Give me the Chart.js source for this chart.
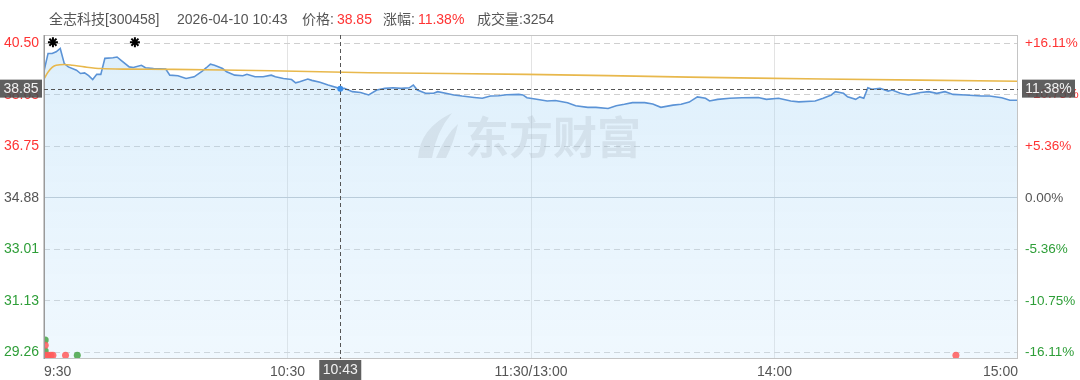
<!DOCTYPE html>
<html lang="zh-CN">
<head>
<meta charset="UTF-8" />
<title>全志科技 分时</title>
<style>
  html, body { margin: 0; padding: 0; background: #fff; }
  #wrap { width: 1080px; height: 380px; }
</style>
</head>
<body>
<div id="wrap"><canvas id="fenshi" width="1080" height="380"></canvas></div>
<script src="https://cdn.jsdelivr.net/npm/chart.js"></script>
<script>
  // ---- data ----
  const stockName = "全志科技[300458]";
  const preClose = 34.88;

  const priceMinutes = [0, 1, 2, 3, 4, 5, 6, 8, 9, 10, 11, 12, 13, 14, 15, 17, 18, 19, 21, 22, 24, 25, 27, 30,
    31, 33, 35, 37, 39, 40, 41, 42, 44, 45, 47, 49, 50, 52, 54, 56, 57, 59, 61, 62, 63, 65, 66, 68, 70,
    73, 74, 76, 78, 80, 82, 84, 86, 88, 90, 91, 92, 94, 96, 97, 99, 101, 103, 106, 108, 110, 112, 114,
    117, 118, 119, 121, 124, 126, 129, 131, 134, 136, 139, 141, 143, 145, 148, 150, 152, 155, 157, 159,
    161, 163, 164, 166, 169, 172, 176, 178, 181, 184, 186, 190, 192, 194, 195, 197, 198, 200, 201, 202,
    203, 204, 206, 208, 209, 211, 213, 216, 218, 220, 222, 224, 227, 231, 233, 236, 238, 240];
  const priceValues = [39.49, 40.13, 40.13, 40.19, 40.31, 39.76, 39.64, 39.52, 39.40, 39.42, 39.32, 39.18,
    39.37, 39.37, 39.95, 39.97, 40.00, 39.88, 39.64, 39.62, 39.70, 39.61, 39.58, 39.56,
    39.34, 39.32, 39.22, 39.28, 39.49, 39.61, 39.74, 39.70, 39.58, 39.46, 39.34, 39.32, 39.37, 39.28,
    39.28, 39.34, 39.28, 39.22, 39.18, 39.06, 39.10, 39.20, 39.15, 39.08, 38.98,
    38.85, 38.86, 38.74, 38.71, 38.62, 38.80, 38.86, 38.88, 38.86, 38.88, 38.98, 38.80, 38.68, 38.68,
    38.74, 38.68, 38.62, 38.58, 38.53, 38.50, 38.58, 38.59, 38.63,
    38.64, 38.62, 38.52, 38.47, 38.40, 38.42, 38.34, 38.23, 38.17, 38.17, 38.13, 38.23, 38.28, 38.34,
    38.34, 38.29, 38.17, 38.25, 38.28, 38.36,
    38.55, 38.50, 38.40, 38.46, 38.50, 38.52, 38.53, 38.46, 38.50, 38.40, 38.37, 38.40, 38.50, 38.62,
    38.74, 38.68, 38.55, 38.46, 38.55, 38.50,
    38.88, 38.83, 38.86, 38.76, 38.80, 38.68, 38.62, 38.71, 38.74, 38.68, 38.74, 38.64, 38.62, 38.58,
    38.58, 38.52, 38.43, 38.43];

  const avgMinutes = [0, 1, 2, 3, 5, 7, 10, 14, 20, 32, 56, 80, 119, 159, 192, 240];
  const avgValues = [39.20, 39.45, 39.62, 39.70, 39.73, 39.70, 39.64, 39.58, 39.56, 39.55, 39.50,
    39.43, 39.37, 39.27, 39.20, 39.12];

  const yTickValues = [40.50, 38.63, 36.75, 34.88, 33.01, 31.13, 29.26];
  const pctTickLabels = ["+16.11%", "+10.75%", "+5.36%", "0.00%", "-5.36%", "-10.75%", "-16.11%"];
  const xTickMinutes = [0, 60, 120, 180, 240];
  const xTickLabels = ["9:30", "10:30", "11:30/13:00", "14:00", "15:00"];

  const markMinutes = [2.2, 22.4];
  const markValues = [40.54, 40.54];
  const redDotMinutes = [0.3, 1, 1.7, 2.2, 0.3, 5.3, 224.7];
  const redDotValues = [29.16, 29.16, 29.16, 29.16, 29.52, 29.16, 29.16];
  const greenDotMinutes = [0.3, 0.3, 8.2];
  const greenDotValues = [29.71, 29.31, 29.16];

  const cursorMinute = 73;
  const cursorTime = "10:43";
  const cursorPrice = 38.85;
  const volume = 3254;
  const tradeDate = "2026-04-10";

  const RED = "#ff3333";
  const GREEN = "#2e9e38";
  const GRAY = "#555555";
  const FONT = 'Arial, "Liberation Sans", "Noto Sans CJK SC", sans-serif';
  const pct = ((cursorPrice - preClose) / preClose * 100).toFixed(2) + "%";

  function toPoints(xs, ys) {
    return xs.map((m, i) => ({ x: m, y: ys[i] }));
  }

  function sideColor(v) {
    if (Math.abs(v - preClose) < 0.001) return GRAY;
    return v > preClose ? RED : GREEN;
  }

  // see-through fill so the grid stays visible under it
  function fillGradient(ctx) {
    const area = ctx.chart.chartArea;
    if (!area) return "rgba(170,215,248,0.3)";
    const g = ctx.chart.ctx.createLinearGradient(0, area.top, 0, area.bottom);
    g.addColorStop(0, "rgba(160,210,245,0.36)");
    g.addColorStop(1, "rgba(200,230,252,0.28)");
    return g;
  }

  // header, watermark, frame, crosshair
  const decorPlugin = {
    id: "decor",
    beforeDatasetsDraw(chart) {
      const c = chart.ctx;
      c.save();
      c.fillStyle = "rgba(150,160,172,0.2)";
      // logo
      c.beginPath();
      c.moveTo(418, 158);
      c.quadraticCurveTo(420, 128, 452, 113);
      c.quadraticCurveTo(436, 132, 432, 158);
      c.closePath();
      c.fill();
      c.beginPath();
      c.moveTo(436, 158);
      c.quadraticCurveTo(446, 134, 458, 124);
      c.quadraticCurveTo(454, 142, 446, 158);
      c.closePath();
      c.fill();
      c.font = 'bold 44px "Noto Sans CJK SC", sans-serif';
      c.textAlign = "left";
      c.textBaseline = "middle";
      c.fillText("东方财富", 465, 137);
      c.restore();
    },
    afterDraw(chart) {
      const c = chart.ctx;
      const a = chart.chartArea;
      const cx = chart.scales.x.getPixelForValue(cursorMinute);
      const cy = chart.scales.y.getPixelForValue(cursorPrice);
      c.save();

      // frame
      c.lineWidth = 1;
      c.strokeStyle = "#c4c4c4";
      c.beginPath();
      c.moveTo(a.left, a.top + 0.5); c.lineTo(a.right, a.top + 0.5);
      c.moveTo(a.right - 0.5, a.top); c.lineTo(a.right - 0.5, a.bottom);
      c.moveTo(a.left, a.bottom - 0.5); c.lineTo(a.right, a.bottom - 0.5);
      c.stroke();
      c.strokeStyle = "#9a9a9a";
      c.lineWidth = 1.5;
      c.beginPath();
      c.moveTo(a.left + 0.25, a.top); c.lineTo(a.left + 0.25, a.bottom);
      c.stroke();

      // crosshair
      c.strokeStyle = "#555";
      c.lineWidth = 1;
      c.setLineDash([4, 3]);
      c.beginPath();
      c.moveTo(Math.round(cx) + 0.5, a.top); c.lineTo(Math.round(cx) + 0.5, a.bottom);
      c.moveTo(a.left, Math.round(cy) + 0.5); c.lineTo(a.right, Math.round(cy) + 0.5);
      c.stroke();
      c.setLineDash([]);
      c.fillStyle = "#3d8fe8";
      c.beginPath();
      c.arc(cx, cy, 3, 0, Math.PI * 2);
      c.fill();

      // cursor boxes
      c.font = "14px " + FONT;
      c.textBaseline = "middle";
      c.fillStyle = "rgba(78,78,78,0.9)";
      c.fillRect(0, cy - 9, 42, 18);
      c.fillRect(a.right + 4, cy - 9, 53, 18);
      c.fillRect(cx - 21, a.bottom + 1, 42, 20);
      c.fillStyle = "#f2f2f2";
      c.textAlign = "center";
      c.fillText(cursorPrice.toFixed(2), 21, cy + 0.5);
      c.fillText(pct, a.right + 30.5, cy + 0.5);
      c.fillText(cursorTime, cx, a.bottom + 11.5);

      // header line
      c.textAlign = "left";
      c.font = "14px " + FONT;
      const parts = [
        [49, stockName, GRAY],
        [177, tradeDate + " " + cursorTime, GRAY],
        [302, "价格:", GRAY, cursorPrice.toFixed(2)],
        [383, "涨幅:", GRAY, pct],
        [477, "成交量:" + volume, GRAY]
      ];
      parts.forEach(p => {
        c.fillStyle = p[2];
        c.fillText(p[1], p[0], 20);
        if (p[3]) {
          const w = c.measureText(p[1]).width;
          c.fillStyle = RED;
          c.fillText(p[3], p[0] + w + 3, 20);
        }
      });
      c.restore();
    }
  };

  const yBase = {
    min: 29.02,
    max: 40.80,
    afterBuildTicks: s => { s.ticks = yTickValues.map(v => ({ value: v })); }
  };

  new Chart(document.getElementById("fenshi"), {
    type: "line",
    data: {
      datasets: [
        {
          label: "price",
          data: toPoints(priceMinutes, priceValues),
          borderColor: "#5b93d6",
          borderWidth: 1.6,
          backgroundColor: fillGradient,
          fill: "start",
          pointRadius: 0,
          tension: 0,
          order: 3
        },
        {
          label: "avg",
          data: toPoints(avgMinutes, avgValues),
          borderColor: "#e8b84c",
          borderWidth: 1.6,
          fill: false,
          pointRadius: 0,
          tension: 0.3,
          order: 2
        },
        {
          label: "marks",
          data: toPoints(markMinutes, markValues),
          showLine: false,
          pointStyle: "star",
          pointRadius: 5,
          borderColor: "#000",
          borderWidth: 2,
          order: 1
        },
        {
          label: "red",
          data: toPoints(redDotMinutes, redDotValues),
          showLine: false,
          pointRadius: 3.5,
          backgroundColor: "rgba(255,90,90,0.85)",
          borderWidth: 0,
          order: 1
        },
        {
          label: "green",
          data: toPoints(greenDotMinutes, greenDotValues),
          showLine: false,
          pointRadius: 3.5,
          backgroundColor: "rgba(70,165,70,0.85)",
          borderWidth: 0,
          order: 1
        }
      ]
    },
    options: {
      responsive: false,
      devicePixelRatio: 1,
      animation: false,
      layout: { padding: { top: 35, left: 0, right: 0, bottom: 0 } },
      plugins: {
        legend: { display: false },
        tooltip: { enabled: false },
        filler: { drawTime: "beforeDatasetsDraw" }
      },
      scales: {
        x: {
          type: "linear",
          min: 0,
          max: 240,
          afterBuildTicks: s => { s.ticks = xTickMinutes.map(v => ({ value: v })); },
          afterFit: s => { s.height = 21; },
          grid: {
            drawTicks: false,
            color: ctx => (ctx.tick && (ctx.tick.value === 0 || ctx.tick.value === 240)) ? "rgba(0,0,0,0)" : "#e3e3e3"
          },
          border: { display: false },
          ticks: {
            align: "inner",
            autoSkip: false,
            maxRotation: 0,
            padding: 5,
            color: GRAY,
            font: { size: 14, family: FONT },
            callback: v => xTickLabels[xTickMinutes.indexOf(v)]
          }
        },
        y: Object.assign({}, yBase, {
          position: "left",
          afterFit: s => { s.width = 44; },
          grid: {
            drawTicks: false,
            color: ctx => (ctx.tick && Math.abs(ctx.tick.value - preClose) < 0.001) ? "#bcc4cb" : "#cfcfcf"
          },
          border: {
            display: false,
            dash: ctx => (ctx.tick && Math.abs(ctx.tick.value - preClose) < 0.001) ? [] : [6, 4]
          },
          ticks: {
            padding: 5,
            font: { size: 14, family: FONT },
            color: ctx => sideColor(ctx.tick.value),
            callback: v => v.toFixed(2)
          }
        }),
        yr: Object.assign({}, yBase, {
          position: "right",
          afterFit: s => { s.width = 62; },
          grid: { display: false, drawTicks: false },
          border: { display: false },
          ticks: {
            padding: 7,
            font: { size: 13.5, family: FONT },
            color: ctx => sideColor(ctx.tick.value),
            callback: v => pctTickLabels[yTickValues.indexOf(v)]
          }
        })
      }
    },
    plugins: [decorPlugin]
  });
</script>
</body>
</html>
